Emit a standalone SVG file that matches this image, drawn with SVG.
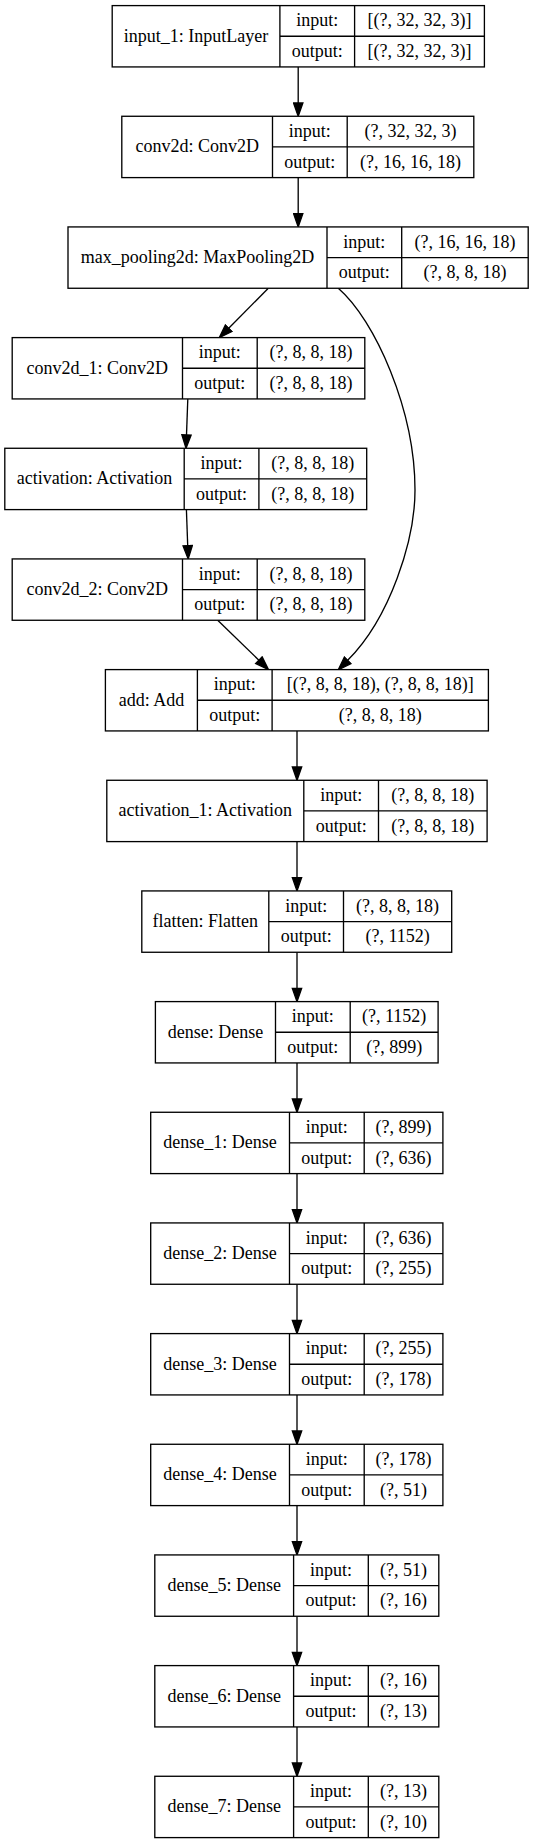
<svg xmlns="http://www.w3.org/2000/svg" width="533" height="1844" viewBox="0 0 533 1844">
<style>
.box{fill:#fff;stroke:#000;stroke-width:1.33}
.ln{stroke:#000;stroke-width:1.33;fill:none}
.edge{fill:none;stroke:#000;stroke-width:1.33}
text{font-family:"Liberation Serif","Times New Roman",serif;font-size:18px;text-anchor:middle;fill:#000}
</style>
<defs>
<marker id="ah" markerUnits="userSpaceOnUse" viewBox="-1 -1 15.33 11.33" markerWidth="15.33" markerHeight="11.33" refX="0" refY="4.67" orient="auto">
<path d="M0,0 L13.33,4.67 L0,9.33 Z" fill="#000" stroke="#000" stroke-width="1.33"/>
</marker>
</defs>
<rect width="533" height="1844" fill="#fff"/>
<g id="edges">
<path class="edge" marker-end="url(#ah)" d="M298.2,66.93 L298.2,102.94"/>
<path class="edge" marker-end="url(#ah)" d="M298.2,177.6 L298.2,213.6"/>
<path class="edge" marker-end="url(#ah)" d="M268.3,288.27 L228.7,328.2"/>
<path class="edge" marker-end="url(#ah)" d="M338.3,288.27 C375,320 415,410 415,490 C415,540 390.1,617.9 347.7,660.3"/>
<path class="edge" marker-end="url(#ah)" d="M187.8,398.93 L186.5,434.94"/>
<path class="edge" marker-end="url(#ah)" d="M186.4,509.6 L187.7,545.6"/>
<path class="edge" marker-end="url(#ah)" d="M217.7,620.27 L258.9,660.2"/>
<path class="edge" marker-end="url(#ah)" d="M297,731 L297,767"/>
<path class="edge" marker-end="url(#ah)" d="M297,841.6 L297,877.6"/>
<path class="edge" marker-end="url(#ah)" d="M297,952.3 L297,988.3"/>
<path class="edge" marker-end="url(#ah)" d="M297,1063 L297,1099"/>
<path class="edge" marker-end="url(#ah)" d="M297,1173.6 L297,1209.6"/>
<path class="edge" marker-end="url(#ah)" d="M297,1284.3 L297,1320.3"/>
<path class="edge" marker-end="url(#ah)" d="M297,1395 L297,1431"/>
<path class="edge" marker-end="url(#ah)" d="M297,1505.6 L297,1541.6"/>
<path class="edge" marker-end="url(#ah)" d="M297,1616.3 L297,1652.3"/>
<path class="edge" marker-end="url(#ah)" d="M297,1727 L297,1763"/>
</g>
<g id="input_1" transform="translate(0,5.6)">
<rect class="box" x="112.2" y="0" width="372.2" height="61.33"/>
<path class="ln" d="M279.9,0V61.33M354.6,0V61.33M279.9,30.67H484.4"/>
<text x="196.05" y="36">input_1: InputLayer</text>
<text x="317.25" y="20.6">input:</text><text x="419.5" y="20.6">[(?, 32, 32, 3)]</text>
<text x="317.25" y="51.3">output:</text><text x="419.5" y="51.3">[(?, 32, 32, 3)]</text>
</g>
<g id="conv2d" transform="translate(0,116.27)">
<rect class="box" x="121.8" y="0" width="352" height="61.33"/>
<path class="ln" d="M272.5,0V61.33M347.2,0V61.33M272.5,30.67H473.8"/>
<text x="197.15" y="36">conv2d: Conv2D</text>
<text x="309.85" y="20.6">input:</text><text x="410.5" y="20.6">(?, 32, 32, 3)</text>
<text x="309.85" y="51.3">output:</text><text x="410.5" y="51.3">(?, 16, 16, 18)</text>
</g>
<g id="max_pooling2d" transform="translate(0,226.93)">
<rect class="box" x="68" y="0" width="460.2" height="61.33"/>
<path class="ln" d="M327,0V61.33M401.7,0V61.33M327,30.67H528.2"/>
<text x="197.5" y="36">max_pooling2d: MaxPooling2D</text>
<text x="364.35" y="20.6">input:</text><text x="464.95" y="20.6">(?, 16, 16, 18)</text>
<text x="364.35" y="51.3">output:</text><text x="464.95" y="51.3">(?, 8, 8, 18)</text>
</g>
<g id="conv2d_1" transform="translate(0,337.6)">
<rect class="box" x="12.2" y="0" width="352.6" height="61.33"/>
<path class="ln" d="M182.5,0V61.33M257.2,0V61.33M182.5,30.67H364.8"/>
<text x="97.35" y="36">conv2d_1: Conv2D</text>
<text x="219.85" y="20.6">input:</text><text x="311" y="20.6">(?, 8, 8, 18)</text>
<text x="219.85" y="51.3">output:</text><text x="311" y="51.3">(?, 8, 8, 18)</text>
</g>
<g id="activation" transform="translate(0,448.27)">
<rect class="box" x="4.8" y="0" width="361.9" height="61.33"/>
<path class="ln" d="M184.2,0V61.33M258.9,0V61.33M184.2,30.67H366.7"/>
<text x="94.5" y="36">activation: Activation</text>
<text x="221.55" y="20.6">input:</text><text x="312.8" y="20.6">(?, 8, 8, 18)</text>
<text x="221.55" y="51.3">output:</text><text x="312.8" y="51.3">(?, 8, 8, 18)</text>
</g>
<g id="conv2d_2" transform="translate(0,558.93)">
<rect class="box" x="12.2" y="0" width="352.6" height="61.33"/>
<path class="ln" d="M182.5,0V61.33M257.2,0V61.33M182.5,30.67H364.8"/>
<text x="97.35" y="36">conv2d_2: Conv2D</text>
<text x="219.85" y="20.6">input:</text><text x="311" y="20.6">(?, 8, 8, 18)</text>
<text x="219.85" y="51.3">output:</text><text x="311" y="51.3">(?, 8, 8, 18)</text>
</g>
<g id="add" transform="translate(0,669.6)">
<rect class="box" x="105.4" y="0" width="383" height="61.33"/>
<path class="ln" d="M197.4,0V61.33M272.1,0V61.33M197.4,30.67H488.4"/>
<text x="151.4" y="36">add: Add</text>
<text x="234.75" y="20.6">input:</text><text x="380.25" y="20.6">[(?, 8, 8, 18), (?, 8, 8, 18)]</text>
<text x="234.75" y="51.3">output:</text><text x="380.25" y="51.3">(?, 8, 8, 18)</text>
</g>
<g id="activation_1" transform="translate(0,780.27)">
<rect class="box" x="106.8" y="0" width="380.3" height="61.33"/>
<path class="ln" d="M303.8,0V61.33M378.5,0V61.33M303.8,30.67H487.1"/>
<text x="205.3" y="36">activation_1: Activation</text>
<text x="341.15" y="20.6">input:</text><text x="432.8" y="20.6">(?, 8, 8, 18)</text>
<text x="341.15" y="51.3">output:</text><text x="432.8" y="51.3">(?, 8, 8, 18)</text>
</g>
<g id="flatten" transform="translate(0,890.93)">
<rect class="box" x="141.8" y="0" width="309.9" height="61.33"/>
<path class="ln" d="M268.8,0V61.33M343.5,0V61.33M268.8,30.67H451.7"/>
<text x="205.3" y="36">flatten: Flatten</text>
<text x="306.15" y="20.6">input:</text><text x="397.6" y="20.6">(?, 8, 8, 18)</text>
<text x="306.15" y="51.3">output:</text><text x="397.6" y="51.3">(?, 1152)</text>
</g>
<g id="dense" transform="translate(0,1001.6)">
<rect class="box" x="155.4" y="0" width="282.7" height="61.33"/>
<path class="ln" d="M275.5,0V61.33M350.2,0V61.33M275.5,30.67H438.1"/>
<text x="215.45" y="36">dense: Dense</text>
<text x="312.85" y="20.6">input:</text><text x="394.15" y="20.6">(?, 1152)</text>
<text x="312.85" y="51.3">output:</text><text x="394.15" y="51.3">(?, 899)</text>
</g>
<g id="dense_1" transform="translate(0,1112.27)">
<rect class="box" x="150.7" y="0" width="292.2" height="61.33"/>
<path class="ln" d="M289.5,0V61.33M364.2,0V61.33M289.5,30.67H442.9"/>
<text x="220.1" y="36">dense_1: Dense</text>
<text x="326.85" y="20.6">input:</text><text x="403.55" y="20.6">(?, 899)</text>
<text x="326.85" y="51.3">output:</text><text x="403.55" y="51.3">(?, 636)</text>
</g>
<g id="dense_2" transform="translate(0,1222.93)">
<rect class="box" x="150.7" y="0" width="292.2" height="61.33"/>
<path class="ln" d="M289.5,0V61.33M364.2,0V61.33M289.5,30.67H442.9"/>
<text x="220.1" y="36">dense_2: Dense</text>
<text x="326.85" y="20.6">input:</text><text x="403.55" y="20.6">(?, 636)</text>
<text x="326.85" y="51.3">output:</text><text x="403.55" y="51.3">(?, 255)</text>
</g>
<g id="dense_3" transform="translate(0,1333.6)">
<rect class="box" x="150.7" y="0" width="292.2" height="61.33"/>
<path class="ln" d="M289.5,0V61.33M364.2,0V61.33M289.5,30.67H442.9"/>
<text x="220.1" y="36">dense_3: Dense</text>
<text x="326.85" y="20.6">input:</text><text x="403.55" y="20.6">(?, 255)</text>
<text x="326.85" y="51.3">output:</text><text x="403.55" y="51.3">(?, 178)</text>
</g>
<g id="dense_4" transform="translate(0,1444.27)">
<rect class="box" x="150.7" y="0" width="292.2" height="61.33"/>
<path class="ln" d="M289.5,0V61.33M364.2,0V61.33M289.5,30.67H442.9"/>
<text x="220.1" y="36">dense_4: Dense</text>
<text x="326.85" y="20.6">input:</text><text x="403.55" y="20.6">(?, 178)</text>
<text x="326.85" y="51.3">output:</text><text x="403.55" y="51.3">(?, 51)</text>
</g>
<g id="dense_5" transform="translate(0,1554.93)">
<rect class="box" x="154.8" y="0" width="284" height="61.33"/>
<path class="ln" d="M293.6,0V61.33M368.3,0V61.33M293.6,30.67H438.8"/>
<text x="224.2" y="36">dense_5: Dense</text>
<text x="330.95" y="20.6">input:</text><text x="403.55" y="20.6">(?, 51)</text>
<text x="330.95" y="51.3">output:</text><text x="403.55" y="51.3">(?, 16)</text>
</g>
<g id="dense_6" transform="translate(0,1665.6)">
<rect class="box" x="154.8" y="0" width="284" height="61.33"/>
<path class="ln" d="M293.6,0V61.33M368.3,0V61.33M293.6,30.67H438.8"/>
<text x="224.2" y="36">dense_6: Dense</text>
<text x="330.95" y="20.6">input:</text><text x="403.55" y="20.6">(?, 16)</text>
<text x="330.95" y="51.3">output:</text><text x="403.55" y="51.3">(?, 13)</text>
</g>
<g id="dense_7" transform="translate(0,1776.27)">
<rect class="box" x="154.8" y="0" width="284" height="61.33"/>
<path class="ln" d="M293.6,0V61.33M368.3,0V61.33M293.6,30.67H438.8"/>
<text x="224.2" y="36">dense_7: Dense</text>
<text x="330.95" y="20.6">input:</text><text x="403.55" y="20.6">(?, 13)</text>
<text x="330.95" y="51.3">output:</text><text x="403.55" y="51.3">(?, 10)</text>
</g>
</svg>
